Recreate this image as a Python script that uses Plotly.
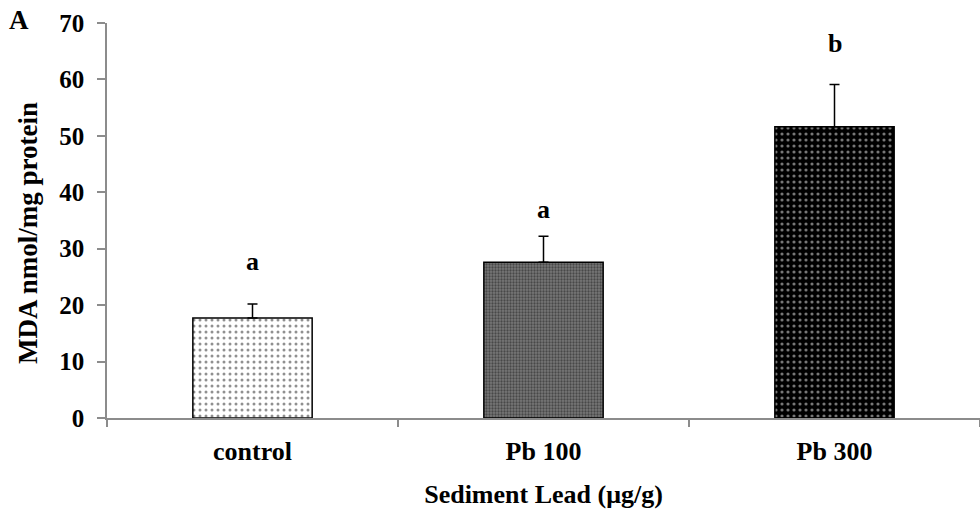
import plotly.graph_objects as go

categories = ["control", "Pb 100", "Pb 300"]
mda_values = [17.7, 27.6, 51.6]
mda_errors = [2.5, 4.6, 7.5]
sig_letters = ["a", "a", "b"]
letter_y = [27.7, 37.0, 66.3]
y_ticks = [0, 10, 20, 30, 40, 50, 60, 70]

FONT = "Liberation Serif, Times New Roman, serif"

bg_colors = ["white", "#777777", "black"]
fg_colors = ["#222222", "#1a1a1a", "#eeeeee"]
pat_sizes = [6, 3, 6]
pat_solid = [0.2, 0.45, 0.22]

PLOT_L, PLOT_W, PLOT_T, PLOT_H = 107, 873, 23, 395

fig = go.Figure()
for i, c in enumerate(categories):
    fig.add_trace(go.Bar(
        x=[c], y=[mda_values[i]],
        width=0.41,
        marker=dict(
            color=bg_colors[i],
            line=dict(color="black", width=1.5),
            pattern=dict(shape=".", bgcolor=bg_colors[i], fgcolor=fg_colors[i],
                         size=pat_sizes[i], solidity=pat_solid[i], fillmode="overlay"),
        ),
        error_y=dict(type="data", array=[mda_errors[i]], arrayminus=[0], symmetric=False,
                     color="black", thickness=1.5, width=5),
        showlegend=False,
    ))

for i, c in enumerate(categories):
    fig.add_annotation(x=c, y=letter_y[i], text=sig_letters[i],
                       showarrow=False,
                       font=dict(family=FONT, size=26, color="black", weight="bold"))

fig.add_annotation(xref="paper", yref="paper",
                   x=(19 - PLOT_L) / PLOT_W, y=(PLOT_T + PLOT_H - 20) / PLOT_H,
                   xanchor="center", yanchor="middle", text="A", showarrow=False,
                   font=dict(family=FONT, size=27, color="black", weight="bold"))

# y-axis title as rotated annotation
fig.add_annotation(xref="paper", yref="paper",
                   x=(28 - PLOT_L) / PLOT_W, y=(PLOT_T + PLOT_H - 233) / PLOT_H,
                   xanchor="center", yanchor="middle", textangle=-90,
                   text="MDA nmol/mg protein", showarrow=False,
                   font=dict(family=FONT, size=27, color="black", weight="bold"))

fig.update_layout(
    width=980, height=528,
    margin=dict(l=PLOT_L, r=0, t=PLOT_T, b=528 - PLOT_T - PLOT_H),
    paper_bgcolor="white", plot_bgcolor="white",
    font=dict(family=FONT, size=25, color="black", weight="bold"),
)

fig.update_xaxes(
    showline=True, linecolor="#8c8c8c", linewidth=1.5,
    ticks="outside", tickson="boundaries", ticklen=7, tickcolor="#8c8c8c", tickwidth=1.5,
    tickfont=dict(family=FONT, size=26, color="black", weight="bold"),
    ticklabelstandoff=9,
    title=dict(text="Sediment Lead (μg/g)",
               font=dict(family=FONT, size=26, weight="bold"), standoff=20),
    range=[-0.5, 2.5],
)
fig.update_yaxes(
    range=[0, 70], tickvals=y_ticks,
    showline=True, linecolor="#8c8c8c", linewidth=1.5,
    ticks="outside", ticklen=8, tickcolor="#8c8c8c", tickwidth=1.5,
    showgrid=False, zeroline=False,
    tickfont=dict(family=FONT, size=25, color="black", weight="bold"),
    ticklabelstandoff=8,
)

fig.write_html("out.html")
